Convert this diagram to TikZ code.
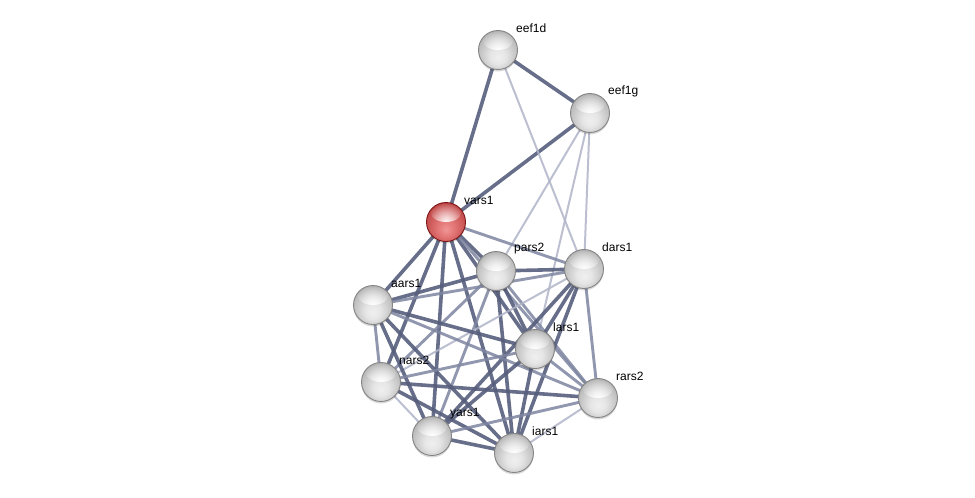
\documentclass[tikz,border=0pt]{standalone}
\usepackage{fontspec}
\setmainfont{Liberation Sans}
\usetikzlibrary{shadows,fadings}
\pgfdeclarelayer{edges}
\pgfsetlayers{edges,main}
\definecolor{estrong}{RGB}{86,94,124}
\definecolor{emed}{RGB}{126,133,160}
\definecolor{elight}{RGB}{176,180,200}
\tikzfading[name=softglow, inner color=transparent!0, outer color=transparent!100]
\pgfdeclareradialshading{sball}{\pgfpoint{0bp}{-10bp}}{%
  color(0bp)=(black!6); color(10bp)=(black!10); color(22bp)=(black!22);
  color(30bp)=(black!30); color(35bp)=(black!36); color(60bp)=(black!36)}
\pgfdeclareradialshading{rball}{\pgfpoint{0bp}{-10bp}}{%
  color(0bp)=(rgb,255:red,240;green,150;blue,150); color(10bp)=(rgb,255:red,228;green,120;blue,120);
  color(22bp)=(rgb,255:red,205;green,88;blue,88);
  color(32bp)=(rgb,255:red,185;green,62;blue,62); color(60bp)=(rgb,255:red,175;green,55;blue,55)}
\tikzset{
  hl/.style={path picture={\fill[white, opacity=0.95, path fading=softglow]
      ([yshift=9pt]path picture bounding box.center) ellipse (15pt and 9pt);}},
  prot/.style={circle, minimum size=39pt, inner sep=0pt, shading=sball, draw=black!48, line width=0.9pt, hl,
    general shadow={shadow xshift=0pt, shadow yshift=-2pt, fill=black, opacity=0.15}},
  protred/.style={prot, shading=rball, draw={rgb,255:red,125;green,22;blue,22}},
  lbl/.style={anchor=west, inner sep=0pt, font=\fontsize{12}{14}\selectfont, text=black},
  es/.style={draw=estrong, line width=3.6pt, opacity=0.9},
  em/.style={draw=emed, line width=2.9pt, opacity=0.85},
  el/.style={draw=elight, line width=2pt, opacity=0.85},
}
\begin{document}
\begin{tikzpicture}[x=1pt,y=-1pt]
\useasboundingbox (0,0) rectangle (975,498);
\node[prot] (eef1d) at (498,50) {};
\node[prot] (eef1g) at (590,113) {};
\node[protred] (vars1) at (446,222) {};
\node[prot] (pars2) at (496,271) {};
\node[prot] (dars1) at (584,269) {};
\node[prot] (aars1) at (373,305) {};
\node[prot] (lars1) at (535,349) {};
\node[prot] (nars2) at (381,382) {};
\node[prot] (rars2) at (598,398) {};
\node[prot] (yars1) at (432,436) {};
\node[prot] (iars1) at (514,453) {};
\node[lbl] (t-eef1d) at (516,28) {eef1d};
\node[lbl] (t-eef1g) at (608,91) {eef1g};
\node[lbl] (t-vars1) at (464,200) {vars1};
\node[lbl] (t-pars2) at (514,249) {pars2};
\node[lbl] (t-dars1) at (602,247) {dars1};
\node[lbl] (t-aars1) at (391,283) {aars1};
\node[lbl] (t-lars1) at (553,327) {lars1};
\node[lbl] (t-nars2) at (399,360) {nars2};
\node[lbl] (t-rars2) at (616,376) {rars2};
\node[lbl] (t-yars1) at (450,414) {yars1};
\node[lbl] (t-iars1) at (532,431) {iars1};
\begin{pgfonlayer}{edges}
% elongation factors
\draw[es] (eef1d.center) -- (eef1g.center);
\draw[es] (eef1d.center) -- (vars1.center);
\draw[es] (eef1g.center) -- (vars1.center);
\draw[el] (eef1d.center) -- (dars1.center);
\draw[el] (eef1g.center) -- (pars2.center);
\draw[el] (eef1g.center) -- (lars1.center);
\draw[el] (eef1g.center) -- (dars1.center);
% vars1
\draw[es] (vars1.center) -- (pars2.center);
\draw[em] (vars1.center) -- (dars1.center);
\draw[es] (vars1.center) -- (aars1.center);
\draw[es] (vars1.center) -- (nars2.center);
\draw[es] (vars1.center) -- (yars1.center);
\draw[es] (vars1.center) -- (iars1.center);
\draw[es] (vars1.center) -- (lars1.center);
\draw[em] (vars1.center) -- (rars2.center);
% pars2
\draw[es] (pars2.center) -- (dars1.center);
\draw[es] (pars2.center) -- (aars1.center);
\draw[em] (pars2.center) -- (nars2.center);
\draw[em] (pars2.center) -- (yars1.center);
\draw[es] (pars2.center) -- (iars1.center);
\draw[es] (pars2.center) -- (lars1.center);
\draw[em] (pars2.center) -- (rars2.center);
% dars1
\draw[em] (dars1.center) -- (aars1.center);
\draw[el] (dars1.center) -- (nars2.center);
\draw[es] (dars1.center) -- (yars1.center);
\draw[es] (dars1.center) -- (iars1.center);
\draw[es] (dars1.center) -- (lars1.center);
\draw[em] (dars1.center) -- (rars2.center);
% aars1
\draw[em] (aars1.center) -- (nars2.center);
\draw[es] (aars1.center) -- (lars1.center);
\draw[em] (aars1.center) -- (rars2.center);
\draw[es] (aars1.center) -- (yars1.center);
\draw[es] (aars1.center) -- (iars1.center);
% lars1
\draw[em] (lars1.center) -- (nars2.center);
\draw[em] (lars1.center) -- (rars2.center);
\draw[es] (lars1.center) -- (yars1.center);
\draw[es] (lars1.center) -- (iars1.center);
% nars2
\draw[es] (nars2.center) -- (rars2.center);
\draw[el] (nars2.center) -- (yars1.center);
\draw[es] (nars2.center) -- (iars1.center);
% rars2, yars1
\draw[em] (rars2.center) -- (yars1.center);
\draw[el] (rars2.center) -- (iars1.center);
\draw[es] (yars1.center) -- (iars1.center);
\end{pgfonlayer}
\end{tikzpicture}
\end{document}
